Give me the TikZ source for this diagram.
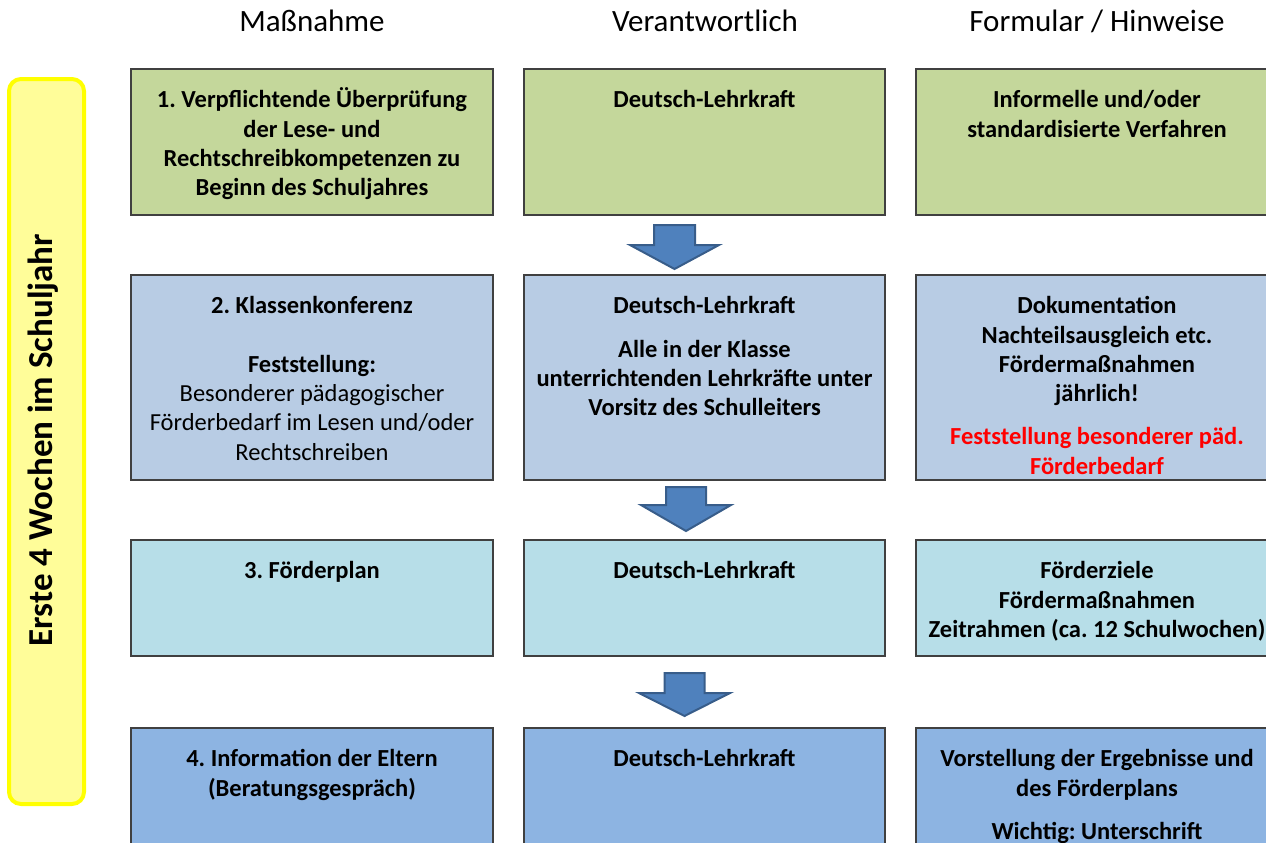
\documentclass[tikz,border=0pt]{standalone}
\usepackage{fontspec}
\setmainfont{Carlito}
\frenchspacing
\definecolor{rowA}{HTML}{C4D79B}
\definecolor{rowB}{HTML}{B8CCE4}
\definecolor{rowC}{HTML}{B7DEE8}
\definecolor{rowD}{HTML}{8DB4E2}
\definecolor{boxline}{HTML}{404040}
\definecolor{arrfill}{HTML}{4F81BD}
\definecolor{arrline}{HTML}{385D8A}
\definecolor{barfill}{HTML}{FFFD99}
\definecolor{barline}{HTML}{FFFF00}
\definecolor{redtxt}{HTML}{FF0000}
\newcommand\fstrut{\rule{0pt}{20pt}}
\begin{document}
\begin{tikzpicture}[x=1pt,y=-1pt,
  box/.style={draw=boxline, line width=1.3pt, inner sep=0, outer sep=0},
  txt/.style={anchor=north, align=center, inner sep=0, font=\fontsize{24.5}{29.3}\selectfont\bfseries\frenchspacing},
  head/.style={anchor=base, inner sep=0, font=\fontsize{31}{34}\selectfont},
  blockarrow/.style={fill=arrfill, draw=arrline, line width=2pt, line join=miter}]
\useasboundingbox (0,0) rectangle (1266,843);
\clip (0,0) rectangle (1266,843);
\fill[white] (0,0) rectangle (1266,843);

% headers
\node[head] (h1) at (312,32) {Maßnahme};
\node[head] (h2) at (705,32) {Verantwortlich};
\node[head] (h3) at (1097,32) {Formular / Hinweise};

% side bar
\node[draw=barline, fill=barfill, line width=4pt, rounded corners=12pt, minimum width=75pt, minimum height=725pt, inner sep=0] (bar) at (46.5,441.5) {};
\node[rotate=90, inner sep=0, font=\fontsize{35}{38}\selectfont\bfseries] (bartxt) at (43,440) {Erste 4 Wochen im Schuljahr};

% row 1
\node[box, fill=rowA, minimum width=362pt, minimum height=146pt] (b11) at (312,142) {};
\node[box, fill=rowA, minimum width=361pt, minimum height=146pt] (b12) at (704.5,142) {};
\node[box, fill=rowA, minimum width=362pt, minimum height=146pt] (b13) at (1097,142) {};
% row 2
\node[box, fill=rowB, minimum width=362pt, minimum height=205pt] (b21) at (312,377.5) {};
\node[box, fill=rowB, minimum width=361pt, minimum height=205pt] (b22) at (704.5,377.5) {};
\node[box, fill=rowB, minimum width=362pt, minimum height=205pt] (b23) at (1097,377.5) {};
% row 3
\node[box, fill=rowC, minimum width=362pt, minimum height=116pt] (b31) at (312,598) {};
\node[box, fill=rowC, minimum width=361pt, minimum height=116pt] (b32) at (704.5,598) {};
\node[box, fill=rowC, minimum width=362pt, minimum height=116pt] (b33) at (1097,598) {};
% row 4
\node[box, fill=rowD, minimum width=362pt, minimum height=172pt] (b41) at (312,814) {};
\node[box, fill=rowD, minimum width=361pt, minimum height=172pt] (b42) at (704.5,814) {};
\node[box, fill=rowD, minimum width=362pt, minimum height=172pt] (b43) at (1097,814) {};

% texts
\node[txt] (t11) at ([yshift=-18.5pt]b11.north) {\fstrut 1. Verpflichtende Überprüfung\\der Lese- und\\Rechtschreibkompetenzen zu\\Beginn des Schuljahres};
\node[txt] (t12) at ([yshift=-18.5pt]b12.north) {\fstrut Deutsch-Lehrkraft};
\node[txt] (t13) at ([yshift=-18.5pt]b13.north) {\fstrut Informelle und/oder\\standardisierte Verfahren};

\node[txt] (t21) at ([yshift=-18.5pt]b21.north) {\fstrut 2. Klassenkonferenz\\[29.3pt]Feststellung:\\{\mdseries Besonderer pädagogischer}\\{\mdseries Förderbedarf im Lesen und/oder}\\{\mdseries Rechtschreiben}};
\node[txt] (t22) at ([yshift=-18.5pt]b22.north) {\fstrut Deutsch-Lehrkraft\\[14pt]Alle in der Klasse\\unterrichtenden Lehrkräfte unter\\Vorsitz des Schulleiters};
\node[txt] (t23) at ([yshift=-18.5pt]b23.north) {\fstrut Dokumentation\\Nachteilsausgleich etc.\\Fördermaßnahmen\\jährlich!\\[14pt]{\color{redtxt}Feststellung besonderer päd.}\\{\color{redtxt}Förderbedarf}};

\node[txt] (t31) at ([yshift=-18.5pt]b31.north) {\fstrut 3. Förderplan};
\node[txt] (t32) at ([yshift=-18.5pt]b32.north) {\fstrut Deutsch-Lehrkraft};
\node[txt] (t33) at ([yshift=-18.5pt]b33.north) {\fstrut Förderziele\\Fördermaßnahmen\\Zeitrahmen (ca. 12 Schulwochen)};

\node[txt] (t41) at ([yshift=-18.5pt]b41.north) {\fstrut 4. Information der Eltern\\(Beratungsgespräch)};
\node[txt] (t42) at ([yshift=-18.5pt]b42.north) {\fstrut Deutsch-Lehrkraft};
\node[txt] (t43) at ([yshift=-18.5pt]b43.north) {\fstrut Vorstellung der Ergebnisse und\\des Förderplans\\[14pt]Wichtig: Unterschrift};

% block arrows
\draw[blockarrow] (654,225) -- (695,225) -- (695,245) -- (719,245) -- (674.5,269) -- (630,245) -- (654,245) -- cycle;
\draw[blockarrow] (666,487) -- (706,487) -- (706,505) -- (731,505) -- (686,531) -- (641,505) -- (666,505) -- cycle;
\draw[blockarrow] (664.5,673) -- (704.5,673) -- (704.5,693) -- (730,693) -- (684.5,716) -- (639,693) -- (664.5,693) -- cycle;
\end{tikzpicture}
\end{document}
